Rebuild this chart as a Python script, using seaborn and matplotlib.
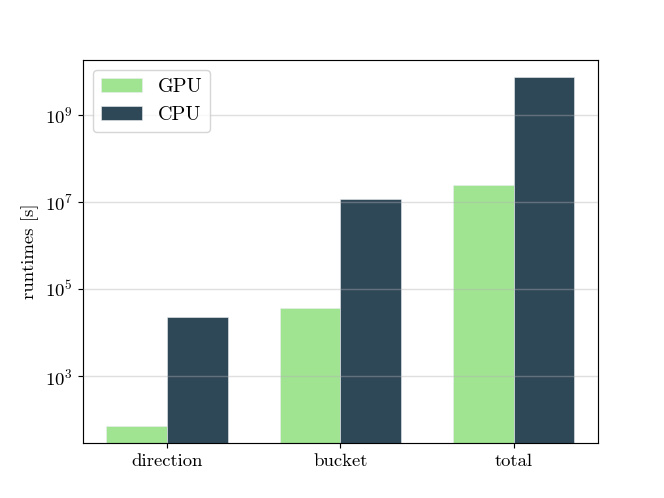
import matplotlib
matplotlib.use("Agg")
import matplotlib.pyplot as plt
import seaborn as sns
import pandas as pd
from matplotlib.ticker import NullLocator

# runtimes (log scale)
stages = ["direction", "bucket", "total"]
gpu_runtimes = [71, 3.7e4, 2.5e7]
cpu_runtimes = [2.3e4, 1.17e7, 7.5e9]
y_ticks = [1e3, 1e5, 1e7, 1e9]

palette = {"GPU": "#a0e492", "CPU": "#2f4858"}

df = pd.DataFrame({
    "stage": stages * 2,
    "runtime": gpu_runtimes + cpu_runtimes,
    "device": ["GPU"] * len(stages) + ["CPU"] * len(stages),
})

sns.set_style("ticks")
plt.rcParams["font.family"] = "serif"
plt.rcParams["font.serif"] = ["cmr10", "DejaVu Serif"]
plt.rcParams["mathtext.fontset"] = "cm"
plt.rcParams["axes.formatter.use_mathtext"] = True
plt.rcParams["axes.edgecolor"] = "black"
plt.rcParams["xtick.color"] = "black"
plt.rcParams["ytick.color"] = "black"
plt.rcParams["text.color"] = "black"
plt.rcParams["axes.labelcolor"] = "black"

fig, ax = plt.subplots(figsize=(6.4, 4.8), dpi=103.75)
sns.barplot(data=df, x="stage", y="runtime", hue="device", palette=palette,
            saturation=1, width=0.7, edgecolor="#e8edf0", linewidth=0.4, ax=ax)
ax.set_yscale("log")
ax.set_ylim(29, 1.84e10)
ax.set_xlim(-0.485, 2.485)
ax.set_yticks(y_ticks)
ax.yaxis.set_minor_locator(NullLocator())

ax.grid(axis="y", color="#b0b0b0", alpha=0.4, linewidth=1.0)
ax.set_axisbelow(False)

ax.set_xlabel("")
ax.set_ylabel("runtimes [s]", fontsize=13)
ax.tick_params(axis="both", labelsize=13, direction="out", length=3.5, width=0.8)
for s in ax.spines.values():
    s.set_visible(True)
    s.set_linewidth(0.8)

ax.legend(loc="upper left", fontsize=14, title=None)

fig.savefig("out.png", dpi=103.75)
